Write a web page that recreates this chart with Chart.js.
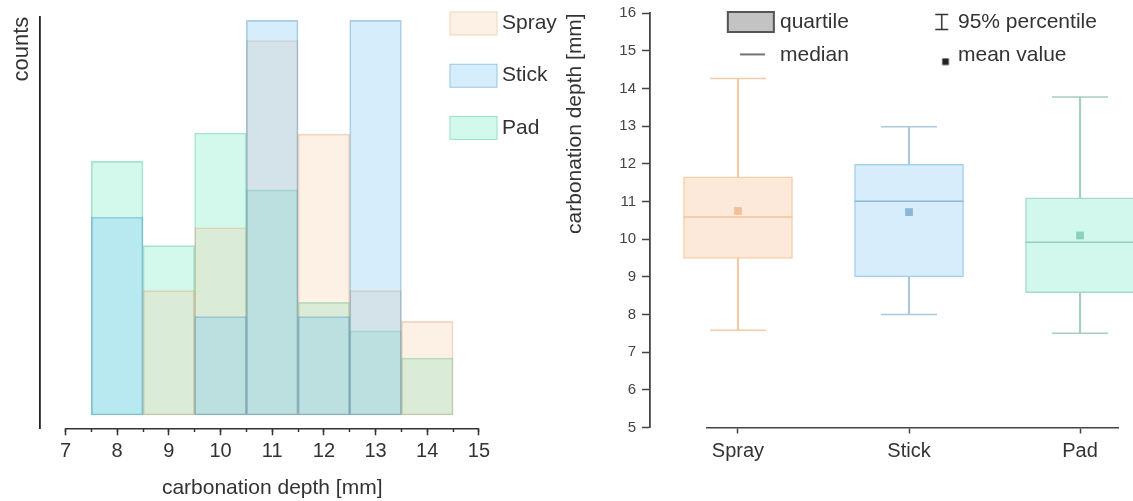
<!DOCTYPE html>
<html>
<head>
<meta charset="utf-8">
<script src="https://cdn.jsdelivr.net/npm/chart.js@4.4.1/dist/chart.umd.min.js"></script>
<style>
html, body { margin: 0; padding: 0; background: #fff; }
#wrap { position: relative; width: 1133px; height: 501px; overflow: hidden; background: #fff; }
canvas { position: absolute; top: 0; }
#histo { left: 0; }
#box { left: 560px; }
</style>
</head>
<body>
<div id="wrap">
  <canvas id="histo" width="560" height="501"></canvas>
  <canvas id="box" width="573" height="501"></canvas>
</div>
<script>
// ---------------- DATA ----------------
// Histogram (relative frequency, % of each series) per 1 mm bin
const binCenters = [8, 9, 10, 11, 12, 13, 14];
const sprayPct   = [0, 10.5, 15.8, 31.6, 23.7, 10.5, 7.9];
const stickPct   = [16.7, 0, 8.3, 33.3, 8.3, 33.3, 0];
const padPct     = [21.4, 14.3, 23.8, 19.0, 9.5, 7.1, 4.8];
const seriesNames = ['Spray', 'Stick', 'Pad'];
const histXMin = 7, histXMax = 15;

// Box plot (carbonation depth in mm)
const boxCategories = ['Spray', 'Stick', 'Pad'];
const q1Values     = [9.49, 9.0, 8.58];
const q3Values     = [11.66, 11.99, 11.1];
const medianValues = [10.59, 11.01, 9.92];
const meanValues   = [10.75, 10.72, 10.1];
const p2_5Values   = [7.58, 8.0, 7.5];
const p97_5Values  = [14.27, 12.99, 13.78];
const boxYMin = 5, boxYMax = 16;

const boxLegendLabels = ['quartile', 'median', '95% percentile', 'mean value'];

// ---------------- STYLE ----------------
Chart.defaults.font.family = '"Liberation Sans", Arial, Helvetica, sans-serif';
Chart.defaults.color = '#333';

const histFill   = ['rgba(248,190,140,0.22)', 'rgba(120,195,245,0.30)', 'rgba(110,235,195,0.30)'];
const histBorder = ['rgba(225,170,125,0.45)', 'rgba(80,150,190,0.45)', 'rgba(80,190,160,0.45)'];
const histDrawOrder = [2, 1, 3]; // Stick on top, then Spray, Pad at the bottom

const boxFill     = ['#fde9d9', '#d7edfc', '#d2f8ed'];
const boxBorder   = ['#f6cfad', '#a6d0ea', '#a3dccb'];
const whiskerCol  = ['#f1cba6', '#a9c9da', '#a6cec2'];
const medianCol   = ['#f0c39b', '#8db8d2', '#98cdbd'];
const meanCol     = ['#f2c19b', '#8cb6d8', '#8dd0ba'];

const axisColor = '#333';

// small helper to build legend icons (canvas point styles)
function makeIcon(w, h, dx, dy, draw) {
  const c = document.createElement('canvas');
  c.width = Math.ceil(2 * (Math.abs(dx) + w / 2) + 4);
  c.height = Math.ceil(2 * (Math.abs(dy) + h / 2) + 4);
  const ctx = c.getContext('2d');
  ctx.translate(c.width / 2 + dx, c.height / 2 + dy);
  draw(ctx);
  return c;
}

// plugin: fine placement of legend box and y-axis box after layout
const placePlugin = {
  id: 'place',
  afterLayout(chart, args, opts) {
    if (opts.yShift) {
      const s = chart.scales.y;
      s.left += opts.yShift;
      s.right += opts.yShift;
    }
    const lg = chart.legend;
    if (lg && opts.legendLeft !== undefined) {
      if (opts.legendMaxHeight) { lg.maxHeight = opts.legendMaxHeight; lg.fit(); }
      lg.left = opts.legendLeft;
      lg.top = opts.legendTop;
      lg.width = Math.max(lg.width, chart.width - lg.left);
      lg.right = lg.left + lg.width;
      lg.bottom = lg.top + lg.height;
    }
  }
};

const noPad = s => { s.paddingLeft = 0; s.paddingRight = 0; s.paddingTop = 0; s.paddingBottom = 0; };

// ---------------- LEFT: HISTOGRAM ----------------
const histValues = [sprayPct, stickPct, padPct];
const histYMin = -1.12, histYMax = 33.61;

const histIcons = seriesNames.map((n, i) => makeIcon(48, 24, 0, 0, ctx => {
  ctx.fillStyle = histFill[i];
  ctx.fillRect(-24, -12, 48, 24);
  ctx.strokeStyle = histBorder[i];
  ctx.lineWidth = 1;
  ctx.strokeRect(-23.5, -11.5, 47, 23);
}));

new Chart(document.getElementById('histo'), {
  type: 'bar',
  data: {
    datasets: seriesNames.map((name, i) => ({
      label: name,
      order: histDrawOrder[i],
      data: binCenters.map((c, j) => ({ x: c, y: histValues[i][j] })),
      backgroundColor: histFill[i],
      borderColor: histBorder[i],
      borderWidth: 1,
      borderSkipped: false,
      barPercentage: 1,
      categoryPercentage: 1,
      grouped: false
    }))
  },
  options: {
    responsive: false,
    animation: false,
    events: [],
    layout: { autoPadding: false, padding: { left: 25.5, right: 81.1, top: 16.7, bottom: 0 } },
    plugins: {
      tooltip: { enabled: false },
      legend: {
        position: 'chartArea',
        align: 'start',
        labels: {
          usePointStyle: true,
          pointStyleWidth: 36,
          padding: 31.2,
          font: { size: 21 },
          color: '#333',
          generateLabels: () => seriesNames.map((n, i) => ({
            text: n, pointStyle: histIcons[i], fontColor: '#333',
            fillStyle: 'transparent', strokeStyle: 'transparent', lineWidth: 0, hidden: false, datasetIndex: i
          }))
        }
      },
      place: { yShift: -25.5, legendLeft: 424.3, legendTop: -18.2 }
    },
    scales: {
      x: {
        type: 'linear',
        position: 'bottom',
        offset: false,
        min: histXMin,
        max: histXMax,
        ticks: { stepSize: 1, font: { size: 20 }, color: '#333', padding: 4.4, autoSkip: false, maxRotation: 0 },
        grid: { display: true, offset: false, drawOnChartArea: false, drawTicks: true, tickLength: 7, tickWidth: 1.5, tickColor: axisColor },
        border: { display: true, color: axisColor, width: 1.5 },
        title: { display: true, text: 'carbonation depth [mm]', font: { size: 21 }, color: '#333', padding: { top: 0, bottom: 0.4 } },
        afterFit: s => { s.height = 72.7; noPad(s); }
      },
      xMinor: {
        type: 'linear',
        axis: 'x',
        position: { y: histYMin },
        offset: false,
        min: histXMin,
        max: histXMax,
        ticks: { display: false, stepSize: 0.5, autoSkip: false },
        grid: { display: true, offset: false, drawOnChartArea: false, drawTicks: true, tickLength: 4, tickWidth: 1.5, tickColor: axisColor },
        border: { display: false },
        afterFit: s => { s.height = 0; noPad(s); }
      },
      y: {
        type: 'linear',
        position: 'left',
        min: histYMin,
        max: histYMax,
        ticks: { display: false },
        grid: { display: true, drawOnChartArea: false, drawTicks: false },
        border: { display: true, color: '#222', width: 1.8 },
        title: { display: true, text: 'counts', align: 'end', font: { size: 22 }, color: '#333', padding: { top: 8.5, bottom: 0 } },
        afterFit: s => { s.width = 40; noPad(s); }
      }
    }
  },
  plugins: [placePlugin]
});

// ---------------- RIGHT: BOX PLOT ----------------
const boxLegendIcons = [
  makeIcon(48, 22, 24.4, 0, ctx => {
    ctx.fillStyle = '#c3c3c3';
    ctx.fillRect(-24, -11, 48, 22);
    ctx.strokeStyle = '#555';
    ctx.lineWidth = 2;
    ctx.strokeRect(-23, -10, 46, 20);
  }),
  makeIcon(26, 2, 26.1, -1, ctx => {
    ctx.strokeStyle = '#444';
    ctx.lineWidth = 1.5;
    ctx.beginPath(); ctx.moveTo(-12.5, 0); ctx.lineTo(12.5, 0); ctx.stroke();
  }),
  makeIcon(14, 16, 37.3, 0, ctx => {
    ctx.strokeStyle = '#333';
    ctx.lineWidth = 1.5;
    ctx.beginPath();
    ctx.moveTo(0, -7.5); ctx.lineTo(0, 7.5);
    ctx.moveTo(-6.5, -7.5); ctx.lineTo(6.5, -7.5);
    ctx.moveTo(-6.5, 7.5); ctx.lineTo(6.5, 7.5);
    ctx.stroke();
  }),
  makeIcon(7, 7, 41.1, 6.3, ctx => {
    ctx.fillStyle = '#222';
    ctx.fillRect(-3.3, -3.3, 6.6, 6.6);
  })
];

const idx = boxCategories.map((_, i) => i);

new Chart(document.getElementById('box'), {
  type: 'bar',
  data: {
    datasets: [
      {
        type: 'scatter', label: 'mean value',
        data: idx.map(i => ({ x: i, y: meanValues[i] })),
        pointStyle: 'rect', pointRadius: 5.5, pointBorderWidth: 0,
        pointBackgroundColor: meanCol, pointBorderColor: meanCol, clip: false
      },
      {
        type: 'scatter', label: 'median',
        data: idx.map(i => ({ x: i, y: medianValues[i] })),
        pointStyle: 'line', pointRadius: 54.5, pointBorderWidth: 1.5,
        pointBorderColor: medianCol, pointBackgroundColor: medianCol, clip: false
      },
      {
        type: 'scatter', label: 'cap high',
        data: idx.map(i => ({ x: i, y: p97_5Values[i] })),
        pointStyle: 'line', pointRadius: 28, pointBorderWidth: 1.5,
        pointBorderColor: whiskerCol, pointBackgroundColor: whiskerCol
      },
      {
        type: 'scatter', label: 'cap low',
        data: idx.map(i => ({ x: i, y: p2_5Values[i] })),
        pointStyle: 'line', pointRadius: 28, pointBorderWidth: 1.5,
        pointBorderColor: whiskerCol, pointBackgroundColor: whiskerCol
      },
      {
        label: 'whisker high',
        data: idx.map(i => ({ x: i, y: [q3Values[i], p97_5Values[i]] })),
        backgroundColor: whiskerCol, borderWidth: 0, barThickness: 1.5, grouped: false
      },
      {
        label: 'whisker low',
        data: idx.map(i => ({ x: i, y: [p2_5Values[i], q1Values[i]] })),
        backgroundColor: whiskerCol, borderWidth: 0, barThickness: 1.5, grouped: false
      },
      {
        label: 'quartile',
        data: idx.map(i => ({ x: i, y: [q1Values[i], q3Values[i]] })),
        backgroundColor: boxFill, borderColor: boxBorder, borderWidth: 1.5,
        borderSkipped: false, barThickness: 109, grouped: false, clip: false
      }
    ]
  },
  options: {
    responsive: false,
    animation: false,
    events: [],
    layout: { autoPadding: false, padding: { left: 46.7, right: 15, top: 13.3, bottom: 0 } },
    plugins: {
      tooltip: { enabled: false },
      legend: {
        position: 'chartArea',
        align: 'start',
        labels: {
          usePointStyle: true,
          pointStyleWidth: 86.2,
          padding: 12.4,
          font: { size: 21 },
          color: '#333',
          generateLabels: () => boxLegendLabels.map((t, i) => ({
            text: t, pointStyle: boxLegendIcons[i], fontColor: '#333',
            fillStyle: 'transparent', strokeStyle: 'transparent', lineWidth: 0, hidden: false
          }))
        }
      },
      place: { yShift: -56.7, legendLeft: 110.9, legendTop: -0.9, legendMaxHeight: 95 }
    },
    scales: {
      x: {
        type: 'linear',
        position: 'bottom',
        offset: false,
        min: -0.183,
        max: 2.222,
        afterBuildTicks: s => { s.ticks = boxCategories.map((_, i) => ({ value: i })); },
        ticks: { callback: v => boxCategories[v], font: { size: 20 }, color: '#333', padding: 5.5, autoSkip: false, maxRotation: 0 },
        grid: { display: true, offset: false, drawOnChartArea: false, drawTicks: true, tickLength: 6, tickWidth: 1.5, tickColor: '#444' },
        border: { display: true, color: '#444', width: 1.5 },
        afterFit: s => { s.height = 73.5; noPad(s); }
      },
      y: {
        type: 'linear',
        position: 'left',
        min: boxYMin,
        max: boxYMax,
        ticks: { stepSize: 1, font: { size: 15 }, color: '#444', padding: 6 },
        grid: { display: true, drawOnChartArea: false, drawTicks: true, tickLength: 8, tickWidth: 1.5, tickColor: '#444' },
        border: { display: true, color: '#444', width: 1.8 },
        title: { display: true, text: 'carbonation depth [mm]', align: 'end', font: { size: 21 }, color: '#333', padding: { top: 12.4, bottom: 0 } },
        afterFit: s => { s.width = 100; noPad(s); }
      }
    }
  },
  plugins: [placePlugin]
});
</script>
</body>
</html>
